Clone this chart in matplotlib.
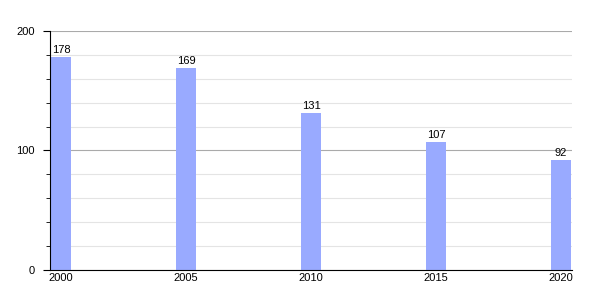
import matplotlib.pyplot as plt
from matplotlib.ticker import MultipleLocator

# data
years = [2000, 2005, 2010, 2015, 2020]
values = [178, 169, 131, 107, 92]

BAR_COLOR = '#99aaff'
plt.rcParams['font.family'] = ['Liberation Sans', 'DejaVu Sans']

fig = plt.figure(figsize=(6, 3), dpi=100)
ax = fig.add_axes([0.0833, 0.1, 0.87, 0.797])

bars = ax.bar(years, values, width=0.8, color=BAR_COLOR, zorder=2)
for b, v in zip(bars, values):
    ax.text(b.get_x() + b.get_width() / 2, v + 2, str(v),
            ha='center', va='bottom', fontsize=8, zorder=3)

ax.set_xlim(1999.56, 2020.44)
ax.set_ylim(0, 200)
ax.set_xticks(years)
ax.set_yticks([0, 100, 200])
ax.yaxis.set_minor_locator(MultipleLocator(20))

ax.grid(axis='y', which='major', color='#aaaaaa', linewidth=0.8, zorder=0)
ax.grid(axis='y', which='minor', color='#e4e4e4', linewidth=0.8, zorder=0)

for s in ['top', 'right']:
    ax.spines[s].set_visible(False)
ax.spines['left'].set_color('black')
ax.spines['bottom'].set_color('black')

ax.tick_params(axis='x', length=0, labelsize=8, pad=2)
ax.tick_params(axis='y', which='major', length=5, labelsize=8, pad=6)
ax.tick_params(axis='y', which='minor', length=3)

fig.savefig('out.png', dpi=100)
